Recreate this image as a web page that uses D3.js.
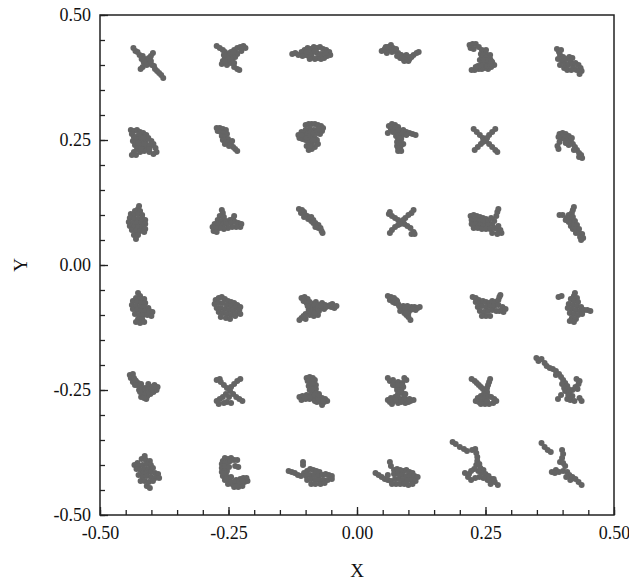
<!DOCTYPE html>
<html>
<head>
<meta charset="utf-8">
<script src="https://cdn.jsdelivr.net/npm/d3@7"></script>
<style>
  body { margin: 0; background: #fff; }
  text { font-family: "Liberation Serif", "Times New Roman", serif; }
</style>
</head>
<body>
<div id="chart"></div>
<script>
const width = 629;
const height = 581;
const margin = { top: 15, right: 15, bottom: 66, left: 100 };
const pointColor = "#646464";

// axis ticks
const majorTicks = [-0.5, -0.25, 0, 0.25, 0.5];
const minorTicks = d3.range(-10, 11).map(d => d * 0.05);

// cluster centres (data units), row by row, top to bottom
const centerX = [
  [-0.407, -0.245, -0.086, 0.084, 0.243, 0.411],
  [-0.416, -0.255, -0.088, 0.084, 0.249, 0.414],
  [-0.426, -0.255, -0.091, 0.086, 0.251, 0.418],
  [-0.418, -0.253, -0.08, 0.088, 0.255, 0.424],
  [-0.414, -0.249, -0.086, 0.084, 0.247, 0.405],
  [-0.409, -0.241, -0.091, 0.084, 0.23, 0.395]
];
const centerY = [0.41, 0.25, 0.085, -0.086, -0.251, -0.416];
const centerYShift = [
  [-0.002, 0.004, 0.014, 0.014, 0.006, -0.004],
  [-0.006, 0.002, 0.004, 0.004, 0.0, -0.01],
  [-0.001, -0.003, 0.005, 0.001, -0.003, -0.001],
  [0, 0, 0, 0, 0.004, 0],
  [0.005, -0.001, -0.003, -0.003, -0.003, 0.011],
  [0.002, 0.002, -0.004, -0.006, 0.016, 0.016]
];

// point offsets from the cluster centre, in thousandths
const offsetsRow1 = [
  [[-28,26],[-24,20],[-20,18],[-16,12],[-10,10],[-6,4],[0,0],[4,-4],[8,-8],[12,-10],[14,-16],[18,-20],[22,-24],[26,-28],[30,-34],[10,16],[6,10],[2,6],[-6,-6],[-10,-12],[-14,-16],[-8,-2],[4,4],[-2,-8],[6,0],[-12,4]],
  [[-28,24],[-22,20],[-16,16],[-12,12],[-8,8],[0,12],[6,16],[12,20],[18,22],[24,24],[28,20],[20,14],[12,8],[4,4],[-6,0],[-12,0],[-16,-6],[-10,-8],[-4,-6],[2,-4],[-18,-12],[-8,-14],[0,-10],[6,-18],[12,-22],[16,-24],[-2,0],[-10,4],[-4,2],[2,6],[8,2],[0,-2],[-6,-2],[6,-10],[-12,-6],[10,10],[-2,10],[-14,6],[4,12]],
  [[-40,-2],[-34,0],[-28,-4],[-22,2],[-16,6],[-10,10],[-4,8],[2,12],[8,10],[14,12],[20,8],[26,6],[32,2],[34,-4],[28,-6],[22,-10],[16,-12],[10,-10],[4,-12],[-2,-8],[-8,-6],[-14,-4],[-20,-6],[-2,0],[8,0],[16,-2],[24,0],[-12,2],[4,4],[-6,-12]],
  [[-36,4],[-30,8],[-24,12],[-18,16],[-14,10],[-20,6],[-10,4],[-4,0],[2,-4],[6,-8],[12,-10],[18,-12],[22,-8],[26,-4],[32,0],[36,2],[16,-16],[8,-16],[0,-10],[-6,-6],[-26,0],[12,-4],[-16,2],[-28,6],[-22,10],[-12,6],[-8,8],[0,-4],[6,-12],[14,-14],[20,-8],[4,-10],[-28,12]],
  [[-24,24],[-18,26],[-12,26],[-22,18],[-16,16],[-6,20],[0,14],[4,10],[8,6],[12,0],[16,-4],[20,-10],[24,-16],[18,-20],[12,-24],[6,-22],[0,-24],[-6,-24],[-14,-26],[-20,-26],[0,0],[6,-4],[10,-12],[2,-10],[-4,-6],[8,14],[16,4],[-2,6],[2,4],[8,-2],[14,-10],[6,-14],[-2,-16],[10,-18],[16,-14],[-8,-18],[4,-6],[12,-6],[-12,-20],[18,-8]],
  [[-22,26],[-18,20],[-14,24],[-16,14],[-10,10],[-20,6],[-12,2],[-4,6],[2,10],[8,8],[4,2],[-6,-4],[0,-6],[8,-4],[14,-2],[20,-6],[24,-12],[26,-18],[22,-24],[16,-16],[10,-12],[-8,-12],[-2,-16],[6,-16],[-16,-6]]
];
const offsetsRow2 = [
  [[-24,26],[-18,24],[-12,26],[-6,22],[0,20],[6,16],[10,10],[16,4],[20,-2],[24,-10],[26,-18],[20,-22],[12,-18],[6,-12],[0,-6],[-6,0],[-12,6],[-18,12],[-22,18],[-20,4],[-16,-4],[-12,-12],[-18,-18],[-22,-24],[-14,-24],[-6,-18],[2,-16],[-4,12],[4,4],[-10,-6],[-10,10],[-4,6],[2,12],[8,8],[14,-6],[8,-4],[2,-2],[-4,-12],[-10,0],[-14,12],[12,-12],[0,10],[-8,18]],
  [[-18,22],[-12,22],[-6,20],[0,18],[-16,16],[-10,14],[-4,12],[2,10],[-8,6],[-2,4],[4,0],[-6,-2],[0,-6],[6,-6],[10,-12],[14,-16],[18,-20],[22,-24],[6,-14],[-2,-10],[12,-4]],
  [[-12,26],[-6,28],[0,28],[6,28],[12,26],[18,24],[22,20],[20,14],[16,8],[10,10],[4,16],[-4,18],[-12,16],[-20,12],[-26,6],[-24,0],[-18,-2],[-12,-4],[-6,4],[0,6],[6,0],[10,-4],[12,-12],[6,-18],[0,-22],[-6,-24],[-10,-16],[-6,-8],[0,-12],[-16,6],[-14,10],[-8,8],[-2,12],[4,10],[10,16],[-10,0],[-2,-2],[4,-6],[-4,-16],[2,-4],[14,18],[-20,6]],
  [[-22,24],[-16,28],[-10,26],[-4,22],[-18,18],[-12,16],[-6,12],[0,14],[6,16],[12,12],[18,10],[24,8],[30,6],[-2,6],[4,6],[-8,4],[-4,-2],[2,-2],[-6,-8],[0,-10],[-6,-16],[0,-20],[-4,-26],[2,-26],[6,-12],[-24,10],[-16,22],[-10,20],[-4,16],[-14,12],[6,10],[12,6],[-2,0],[2,-14],[-2,-14],[-4,-20]],
  [[-22,22],[-16,16],[-10,10],[-4,4],[2,-2],[8,-8],[14,-14],[20,-20],[24,-24],[20,22],[14,16],[8,10],[-8,-8],[-14,-14],[-20,-20],[0,0],[4,4],[-4,-4]],
  [[-20,22],[-14,24],[-8,22],[-2,18],[-22,16],[-16,14],[-10,12],[-4,10],[2,8],[6,2],[-2,0],[-8,4],[10,-4],[14,-10],[8,-10],[18,-16],[22,-20],[24,-26],[18,-24],[-20,6],[-24,-2],[-22,-8],[4,14]]
];
const offsetsRow3 = [
  [[2,34],[0,28],[-6,24],[4,24],[-14,18],[-8,16],[0,18],[8,16],[-16,10],[-8,8],[0,8],[8,10],[14,6],[-18,2],[-10,0],[-2,0],[6,0],[14,-2],[-16,-6],[-8,-8],[0,-8],[8,-8],[14,-12],[-12,-14],[-4,-16],[4,-16],[12,-18],[-8,-24],[0,-24],[-4,-32]],
  [[-8,28],[-6,22],[-12,16],[-4,14],[-16,8],[-8,6],[0,6],[8,8],[14,10],[-22,0],[-14,0],[-6,-2],[2,0],[10,2],[18,4],[24,2],[30,0],[28,-6],[20,-6],[12,-6],[4,-8],[-4,-10],[-12,-8],[-20,-8],[-24,-14],[-18,-16],[-26,-6],[16,16]],
  [[-22,22],[-16,20],[-18,14],[-12,16],[-10,10],[-6,8],[-4,2],[0,4],[2,-2],[6,0],[6,-6],[10,-6],[12,-12],[16,-10],[16,-16],[20,-16],[22,-22],[24,-26],[-12,6],[2,6],[10,-14]],
  [[-24,16],[-18,12],[-12,8],[-6,4],[0,0],[6,-4],[12,-8],[18,-12],[24,-20],[20,-24],[26,-24],[24,24],[20,18],[14,14],[8,8],[-6,-6],[-12,-10],[-18,-16],[-22,-22],[-22,20],[4,4],[-2,-4]],
  [[-30,16],[-24,18],[-18,16],[-12,14],[-6,12],[0,10],[-28,8],[-20,8],[-12,6],[-4,4],[4,6],[-28,0],[-20,0],[-12,-2],[-4,-4],[4,-2],[12,0],[-24,-8],[-16,-8],[-8,-10],[0,-10],[8,-10],[16,-8],[22,-10],[28,-12],[24,-4],[16,6],[20,16],[22,24],[24,30],[10,12],[30,-18],[22,-20],[12,-18]],
  [[-24,16],[-18,16],[4,32],[2,26],[0,20],[-6,16],[-10,10],[-4,8],[2,12],[-6,2],[0,2],[6,4],[-2,-6],[4,-4],[10,-4],[2,-12],[8,-12],[14,-12],[8,-20],[14,-20],[20,-22],[16,-28],[22,-30],[18,-34],[-12,6]]
];
const offsetsRow4 = [
  [[-8,30],[-4,24],[-12,20],[-4,18],[4,18],[-18,14],[-10,12],[-2,10],[6,10],[-20,6],[-12,4],[-4,2],[4,2],[12,0],[-18,-2],[-10,-4],[-2,-6],[6,-6],[14,-6],[20,-8],[-14,-12],[-6,-14],[2,-14],[10,-14],[18,-16],[-8,-22],[0,-22],[-4,-30],[-12,-28],[4,-28]],
  [[-22,16],[-16,20],[-10,22],[-4,18],[2,14],[8,12],[14,10],[20,6],[26,2],[-24,8],[-16,10],[-8,10],[0,6],[8,4],[16,0],[24,-4],[-20,0],[-12,0],[-4,-2],[4,-4],[12,-6],[20,-10],[26,-12],[-16,-8],[-8,-10],[0,-12],[8,-14],[16,-16],[-2,-20],[6,-22],[-12,-18]],
  [[-28,20],[-22,22],[-16,18],[-24,14],[-18,10],[-12,12],[-6,8],[0,12],[6,6],[12,10],[18,6],[24,4],[30,2],[36,0],[32,8],[40,4],[-8,0],[0,0],[8,0],[16,-2],[-14,-4],[-6,-6],[2,-8],[-20,-12],[-12,-14],[-4,-16],[-28,-20],[-20,-22],[-32,-24],[4,-14],[-10,6],[-2,6],[4,2],[10,4],[-16,4],[-10,-8],[-2,-10],[-24,-16],[20,2],[28,6],[6,-6]],
  [[-28,24],[-22,22],[-18,18],[-12,16],[-24,16],[-14,10],[-8,8],[-4,2],[2,4],[2,-2],[6,-6],[10,-2],[12,-10],[16,-4],[18,2],[24,2],[30,0],[34,2],[26,-4],[8,-14],[12,-18],[16,-24],[-4,-6],[-18,12],[-10,14],[-6,4],[4,-10],[8,-10],[20,-2],[-16,20],[10,4],[6,0]],
  [[-30,18],[-24,16],[-18,12],[-24,8],[-16,6],[-10,10],[-4,8],[2,6],[8,10],[14,8],[20,12],[22,18],[24,22],[-20,-2],[-12,0],[-4,-2],[4,0],[12,0],[20,2],[28,-2],[34,-6],[30,-12],[22,-10],[-16,-10],[-8,-12],[0,-10],[8,-8],[16,-10],[-4,-20],[4,-20],[-12,-20]],
  [[-32,22],[-26,24],[0,30],[-2,24],[4,20],[-8,18],[-2,14],[6,12],[-12,8],[-4,6],[4,4],[12,2],[-14,0],[-6,-2],[2,-4],[10,-6],[18,-4],[24,-4],[30,-6],[-10,-10],[-2,-12],[6,-14],[14,-12],[-6,-20],[2,-22],[-2,-28],[-10,-26]]
];
const offsetsRow5 = [
  [[-28,26],[-22,28],[-26,20],[-20,20],[-16,14],[-22,12],[-14,6],[-8,4],[-10,-4],[-4,-2],[2,0],[-4,-10],[2,-8],[8,-6],[0,-16],[6,-16],[12,-12],[18,-8],[24,-4],[26,2],[20,6],[14,2],[8,8],[4,-22],[-6,-18],[-18,16],[-12,10],[-6,8],[-4,0],[2,-4],[8,-2],[14,-4],[6,-10],[-2,-12],[-8,-8],[0,-20],[16,0],[20,2],[-18,6]],
  [[-24,22],[-18,24],[-16,18],[-10,12],[-4,6],[2,0],[8,-6],[14,-12],[20,-16],[26,-20],[22,24],[16,20],[10,14],[4,8],[-6,-6],[-12,-12],[-18,-16],[-24,-20],[-20,-26],[-4,-22],[4,-24],[-10,-24],[0,-12]],
  [[-12,28],[-6,30],[0,28],[4,24],[-10,22],[-4,20],[2,18],[6,14],[-8,12],[0,10],[6,6],[-6,4],[0,0],[6,-2],[12,-4],[-4,-6],[-12,-6],[-20,-8],[-26,-10],[-22,-16],[-14,-14],[-6,-14],[2,-12],[10,-12],[18,-12],[24,-14],[28,-18],[22,-20],[16,-20],[8,-20],[18,-26],[-6,24],[0,22],[-2,16],[4,8],[-2,6],[-10,-10],[-2,-10],[4,-6],[12,-8],[-16,-12],[4,-18],[12,-16],[20,-18]],
  [[-24,28],[-20,22],[-14,24],[8,28],[12,24],[-12,18],[-4,20],[4,18],[-8,12],[0,12],[6,10],[-6,4],[2,4],[-4,-4],[4,-2],[10,-4],[-10,-10],[-18,-12],[-24,-16],[-20,-20],[-12,-18],[0,-14],[6,-16],[14,-16],[20,-18],[26,-16],[-16,-24],[-4,-22],[10,-22],[-6,-8],[8,-10],[-14,14],[-4,14],[4,14],[0,0],[-2,-16],[8,-16],[16,-20],[-8,-16],[2,-20],[18,-14],[-20,-16]],
  [[-24,26],[-18,22],[-14,18],[-10,14],[-6,10],[-2,6],[2,2],[12,26],[10,20],[8,14],[6,8],[6,0],[0,-4],[-6,-8],[-12,-12],[-16,-18],[-10,-20],[-4,-18],[2,-12],[8,-8],[14,-10],[20,-14],[24,-18],[18,-22],[10,-24],[2,-24],[-6,-24],[6,-18]],
  [[-56,54],[-52,48],[-46,52],[-40,44],[-36,38],[-30,34],[-24,32],[-18,28],[-12,22],[-8,16],[-4,10],[0,4],[-6,2],[4,-2],[-2,-6],[6,-8],[0,-12],[8,-14],[14,-10],[20,-4],[26,2],[28,8],[22,12],[24,-8],[6,-20],[14,-22],[4,-28],[10,-30],[18,-32],[28,-26],[32,-32],[-8,-20],[-14,-28],[-18,20]]
];
const offsetsRow6 = [
  [[-4,32],[-10,26],[-2,24],[6,22],[-18,18],[-24,14],[-16,12],[-8,14],[0,16],[8,14],[-20,6],[-12,4],[-4,6],[4,6],[12,8],[-8,-2],[0,-2],[8,0],[16,-2],[22,-4],[-16,-6],[-8,-10],[0,-8],[8,-10],[16,-12],[24,-12],[-12,-18],[-4,-18],[4,-20],[12,-18],[0,-28],[6,-32]],
  [[-16,28],[-10,26],[-4,28],[2,24],[-20,22],[-22,16],[-16,18],[-14,12],[-22,8],[-16,6],[-22,0],[-14,-2],[-20,-8],[-12,-10],[-16,-16],[-8,-16],[-4,-10],[-10,-24],[-2,-24],[6,-24],[14,-22],[22,-20],[28,-18],[6,-16],[14,-14],[20,-12],[26,-12],[2,-30],[10,-30],[18,-28],[-12,2],[8,24],[4,12],[10,10],[-10,20],[-6,22],[-16,12],[-18,-2],[-14,-14],[-4,-20],[4,-18],[12,-18],[18,-18],[8,-28],[-8,10]],
  [[-14,26],[-14,20],[-42,8],[-36,6],[-30,4],[-24,0],[-18,-2],[-12,4],[-6,8],[0,12],[6,10],[12,8],[18,6],[-8,-2],[0,0],[8,0],[16,-2],[24,0],[30,2],[36,0],[42,-2],[-6,-10],[2,-8],[10,-10],[18,-10],[26,-10],[34,-10],[42,-8],[2,-18],[10,-18],[20,-18],[28,-16]],
  [[-20,28],[-18,20],[-48,6],[-42,2],[-36,-2],[-30,-6],[-24,-8],[-18,-10],[-24,2],[-12,12],[-6,14],[0,12],[6,10],[12,12],[18,8],[24,6],[-12,4],[-4,4],[4,2],[12,0],[20,0],[28,0],[34,-2],[-10,-6],[-2,-6],[6,-8],[14,-8],[22,-8],[30,-10],[-8,-16],[0,-16],[8,-16],[16,-18],[24,-16],[-16,-16]],
  [[-44,46],[-38,42],[-30,36],[-22,32],[-16,28],[-6,30],[0,32],[2,24],[4,16],[4,8],[2,0],[8,2],[10,-6],[16,-10],[12,-16],[20,-18],[26,-22],[32,-28],[38,-34],[44,-40],[24,-30],[16,-26],[8,-24],[0,-26],[-8,-30],[-14,-24],[-20,-16],[-12,-18],[6,-12],[-2,-8],[-8,-12],[30,-38],[36,-28]],
  [[-36,44],[-30,36],[-24,30],[-18,26],[4,30],[6,22],[4,14],[0,6],[6,4],[10,-2],[-8,-10],[-16,-14],[-10,-16],[-2,-14],[6,-12],[14,-14],[18,-20],[24,-24],[30,-28],[36,-34],[42,-40],[20,-30],[12,-24]]
];

const offsetRows = [offsetsRow1, offsetsRow2, offsetsRow3, offsetsRow4, offsetsRow5, offsetsRow6];

// build the point table
const points = [];
offsetRows.forEach((row, r) => {
  row.forEach((cluster, c) => {
    const cx = centerX[r][c];
    const cy = centerY[r] + centerYShift[r][c];
    cluster.forEach(([dx, dy]) => {
      points.push({ x: cx + dx / 1000, y: cy + dy / 1000 });
    });
  });
});

const innerW = width - margin.left - margin.right;
const innerH = height - margin.top - margin.bottom;

const x = d3.scaleLinear().domain([-0.5, 0.5]).range([0, innerW]);
const y = d3.scaleLinear().domain([-0.5, 0.5]).range([innerH, 0]);

const svg = d3
  .select("#chart")
  .append("svg")
  .attr("width", width)
  .attr("height", height);

const g = svg
  .append("g")
  .attr("transform", `translate(${margin.left},${margin.top})`);

// points
g.selectAll(".pt")
  .data(points)
  .enter()
  .append("circle")
  .attr("class", "pt")
  .attr("cx", d => x(d.x))
  .attr("cy", d => y(d.y))
  .attr("r", 3)
  .attr("fill", pointColor);

// frame
g.append("rect")
  .attr("width", innerW)
  .attr("height", innerH)
  .attr("fill", "none")
  .attr("stroke", "#222")
  .attr("stroke-width", 1.5);

// minor ticks
g.append("g")
  .attr("transform", `translate(0,${innerH})`)
  .call(d3.axisBottom(x).tickValues(minorTicks).tickSize(-5).tickFormat(""))
  .call(a => a.select(".domain").remove());
g.append("g")
  .call(d3.axisLeft(y).tickValues(minorTicks).tickSize(-5).tickFormat(""))
  .call(a => a.select(".domain").remove());

// major ticks + labels
const fmt = d3.format(".2f");
const xAxis = g
  .append("g")
  .attr("transform", `translate(0,${innerH})`)
  .call(
    d3.axisBottom(x).tickValues(majorTicks).tickSize(-8).tickPadding(11)
      .tickFormat(d => fmt(d).replace("−", "-"))
  );
const yAxis = g
  .append("g")
  .call(
    d3.axisLeft(y).tickValues(majorTicks).tickSize(-8).tickPadding(9)
      .tickFormat(d => fmt(d).replace("−", "-"))
  );

[xAxis, yAxis].forEach(a => {
  a.select(".domain").remove();
  a.selectAll("text")
    .attr("fill", "#111")
    .style("font-size", "18px")
    .style("font-family", "'Liberation Serif', serif");
});
g.selectAll(".tick line").attr("stroke", "#222").attr("stroke-width", 1.3);

// axis titles
svg.append("text")
  .attr("x", margin.left + innerW / 2)
  .attr("y", 577)
  .attr("text-anchor", "middle")
  .style("font-size", "19px")
  .attr("fill", "#111")
  .text("X");

svg.append("text")
  .attr("transform", `translate(27,${margin.top + innerH / 2}) rotate(-90)`)
  .attr("text-anchor", "middle")
  .style("font-size", "19px")
  .attr("fill", "#111")
  .text("Y");
</script>
</body>
</html>
